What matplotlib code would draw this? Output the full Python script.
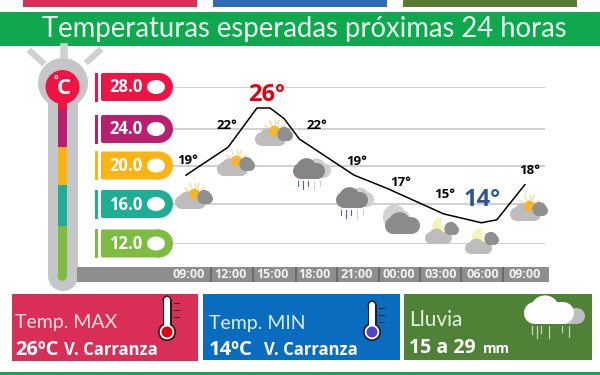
import numpy as np
import matplotlib
matplotlib.use("Agg")
import matplotlib.pyplot as plt
from matplotlib.patches import Ellipse, Rectangle, FancyBboxPatch
from matplotlib.transforms import Affine2D, blended_transform_factory

# ---------- data ----------
scale_vals = [28.0, 24.0, 20.0, 16.0, 12.0]
scale_colors = ["#EE1443", "#B91F6F", "#FCB314", "#1FAD95", "#7DBB41"]

line_hours = [0, 3, 5.07, 6, 7, 8.1, 12, 14.4, 18.4, 21.1, 22.2, 24.2]
line_temps = [19, 22, 26, 26, 25, 22.9, 19, 17.6, 15, 14.1, 14.4, 18]

label_hours = [0, 3, 6, 9, 12, 15, 18, 21, 24]
label_temps = [19, 22, 26, 22, 19, 17, 15, 14, 18]
time_labels = ["09:00", "12:00", "15:00", "18:00", "21:00", "00:00", "03:00", "06:00", "09:00"]
icons = ["partly", "partly", "partly", "rain", "rain", "clouds", "moon", "moon", "partly"]

title = "Temperaturas esperadas próximas 24 horas"

# ---------- layout (pixels of the 600x375 picture) ----------
row_px = [87, 129, 165.5, 204, 243.5]
label_off = [(2, 15), (-1, 22), (-3, 13), (5, 22), (3, 14), (5, 12), (7, 19), (2, 24), (8, 14)]
icon_pos = [(175, 183), (217, 150), (255, 120), (293, 163), (336, 192), (382, 208), (425, 218), (465, 228), (510, 195)]
sep_px = [211, 253, 296, 337, 379, 420, 461, 503]

fig = plt.figure(figsize=(6, 3.75), dpi=100, facecolor="white")
ax = fig.add_axes([173 / 600, (375 - 243.5) / 375, 372 / 600, (243.5 - 87) / 375])
ax.axis("off")
px = Affine2D().scale(1, -1).translate(0, 375)

asc_vals = scale_vals[::-1]
asc_px = [-p for p in row_px[::-1]]
ax.set_yscale("function", functions=(lambda t: np.interp(t, asc_vals, asc_px),
                                     lambda p: np.interp(p, asc_px, asc_vals)))
ax.set_xlim(-13 / 14, 359 / 14)
ax.set_ylim(12, 28)
time_tr = blended_transform_factory(ax.transData, px)


def rect(x0, y0, x1, y1, color, z=1):
    ax.add_patch(Rectangle((x0, y0), x1 - x0, y1 - y0, fc=color, ec="none", transform=px, zorder=z, clip_on=False))


def circ(x, y, r, color, z=1, ry=None):
    ax.add_patch(Ellipse((x, y), 2 * r, 2 * (ry or r), fc=color, ec="none", transform=px, zorder=z, clip_on=False))


def txt(x, y, s, size, color="white", weight="normal", ha="left", z=6, font="Lato"):
    ax.text(x, y, s, fontsize=size, color=color, fontweight=weight, ha=ha, va="baseline", transform=px,
            family=font, zorder=z, clip_on=False)


def cloud(x, y, w, color, z=3, ratio=0.22):
    # x,y is the lower left corner of the cloud, w its width
    h = w * ratio
    rect(x + h, y - 2 * h, x + w - h, y, color, z)
    circ(x + h, y - h, h, color, z)
    circ(x + w - h, y - h, h, color, z)
    circ(x + w * 0.42, y - h * 1.3, h * 1.3, color, z)


def sun(x, y, r):
    for a in np.radians([150, 115, 90, 65, 30]):
        ax.plot([x + np.cos(a) * (r + 2), x + np.cos(a) * (r + 6)], [y - np.sin(a) * (r + 2), y - np.sin(a) * (r + 6)],
                color="#F3D98B", lw=0.9, transform=px, zorder=3, clip_on=False)
    circ(x, y, r, "#F8B62D", 3)


def icon(kind, x, y):
    if kind == "partly":
        cloud(x, y + 26, 31, "#BDBDBD", 2.8)
        sun(x + 19.5, y + 11, 5.5)
        cloud(x + 23, y + 21, 15, "#8F8F8F", 4, 0.36)
    elif kind == "moon":
        circ(x + 16, y + 9, 9, "#F4F5B5", 3)
        circ(x + 23, y + 5, 7, "white", 3)
        cloud(x, y + 26, 27, "#BDBDBD", 4)
        cloud(x + 20, y + 17, 14, "#8F8F8F", 4, 0.36)
    elif kind == "clouds":
        cloud(x + 1, y + 19, 27, "#D2D2D2", 3, 0.32)
        cloud(x + 3, y + 26, 35, "#8C8C8C", 4, 0.24)
    elif kind == "rain":
        cloud(x + 13, y + 15, 25, "#CFCFCF", 3, 0.3)
        cloud(x, y + 16, 32, "#858585", 4, 0.25)
        for i, dx in enumerate([5, 10, 15, 21, 27]):
            c = "#5A5FB0" if i < 3 else "#CFCFCF"
            ax.plot([x + dx, x + dx], [y + 18, y + 23 + (i % 2) * 3], color=c, lw=0.8,
                    transform=px, zorder=3, clip_on=False)


def thermo(x, y0, y1, fill):
    rect(x - 4.5, y0 + 3, x + 4.5, y1 - 9, "#2A1A20", 7)
    circ(x, y0 + 3, 4.5, "#2A1A20", 7)
    circ(x, y1 - 8, 9, "#2A1A20", 7)
    rect(x - 3, y0 + 3, x + 3, y1 - 9, "white", 8)
    circ(x, y0 + 3, 3, "white", 8)
    circ(x, y1 - 8, 7.3, "white", 8)
    circ(x, y1 - 8, 5.5, fill, 9)
    for dy in [6, 13, 20]:
        rect(x + 7, y0 + dy, x + 12.5, y0 + dy + 1, "#2A1A20", 7)


# ---------- top bars and title ----------
for x0, x1, c in [(23, 197, "#D92E55"), (213, 387, "#2E6DB4"), (403, 577, "#5B7B35")]:
    rect(x0, 0, x1, 7, c)
rect(0, 12, 600, 46, "#0FA84E")
txt(304, 37, title, 19.8, color="#E9F9EF", ha="center")

# ---------- thermometer ----------
ax.plot([31, 42], [52, 62], color="#CFD1D3", lw=4.5, transform=px, clip_on=False)
ax.plot([64, 64], [47, 55], color="#CFD1D3", lw=5.5, transform=px, clip_on=False)
ax.plot([99, 88], [51, 61], color="#CFD1D3", lw=4.5, transform=px, clip_on=False)
circ(63, 83, 25, "#C4C6C8")
rect(48, 83, 78, 276, "#C4C6C8")
circ(63, 276, 15, "#C4C6C8")
rect(57.5, 100, 67, 110, "#EE1443", 2)
rect(57.5, 110, 67, 147, "#B91F6F", 2)
rect(57.5, 147, 67, 185, "#FCB314", 2)
rect(57.5, 185, 67, 226, "#1FAD95", 2)
rect(57.5, 226, 67, 276, "#7DBB41", 2)
circ(62.3, 276, 4.8, "#7DBB41", 2)
circ(62.5, 87, 17, "#EE1443", 2)
txt(64, 93.5, "C", 16, weight="bold", ha="center", z=3, font="Open Sans")
txt(56, 85, "°", 8, weight="bold", ha="center", z=3)

# ---------- scale rows ----------
ax.hlines(scale_vals, -13 / 14, 359 / 14, color="#C8C8C8", lw=1.2, zorder=2)
for val, c, y in zip(scale_vals, scale_colors, row_px):
    rect(95, y - 14.5, 98, y + 14.5, c, 3)
    ax.add_patch(FancyBboxPatch((103, y - 12), 56, 24, boxstyle="round,pad=2,rounding_size=2", fc=c, ec="none",
                                transform=px, zorder=3, clip_on=False))
    circ(159, y, 14, c, 3)
    circ(156, y, 9, "white", 4, ry=7)
    txt(126, y + 5.5, "%.1f" % val, 12, weight="bold", ha="center", z=4, font="Open Sans")

# ---------- weather icons, curve, value labels ----------
for kind, (x, y) in zip(icons, icon_pos):
    icon(kind, x, y)

ax.plot(line_hours, line_temps, color="black", lw=1.1, zorder=5, clip_on=False)

for h, t, (dx, dy) in zip(label_hours, label_temps, label_off):
    color, size = "black", 9.5
    if t == max(label_temps):
        color, size = "#E3000F", 17
    elif t == min(label_temps):
        color, size = "#2F5597", 17
    ax.annotate("%d°" % t, (h, t), xytext=(dx * 0.72, dy * 0.72), textcoords="offset points", ha="center",
                va="center", fontsize=size, color=color, fontweight="bold", family="Open Sans", zorder=6,
                annotation_clip=False)

# ---------- time axis ----------
rect(77, 267, 549, 282, "#8E8E8E", 2)
for x in sep_px:
    rect(x - 1, 267, x + 1, 282, "#6A6A6A", 3)
for h, s in zip(label_hours, time_labels):
    ax.text(h + 0.2, 274.7, s, transform=time_tr, fontsize=9, color="#F2F2F2", fontweight="bold", ha="center",
            va="center", family="Open Sans", zorder=4, clip_on=False)

# ---------- bottom boxes ----------
rect(12, 294, 198, 360.5, "#D92E55")
rect(203, 294, 400, 359.5, "#0A6CBF")
rect(404, 294, 592, 360, "#4F8136")
rect(0, 372, 600, 375, "#0FA84E")

txt(15, 328, "Temp. MAX", 14, color="#F8DDE3")
txt(15, 355, "26ºC", 14.5, weight="bold", font="Open Sans")
txt(64, 355, "V. Carranza", 12, weight="bold", font="Open Sans")
txt(209, 329, "Temp. MIN", 14, color="#DCEBFA")
txt(209, 355, "14ºC", 14.5, weight="bold", font="Open Sans")
txt(264, 355, "V. Carranza", 12, weight="bold", font="Open Sans")
txt(409, 326, "Lluvia", 15, color="#E4F2DC")
txt(409, 353, "15 a 29", 14, weight="bold", font="Open Sans")
txt(483, 353, "mm", 10, weight="bold", font="Open Sans")

thermo(167, 297, 340, "#E3000F")
thermo(372, 302, 340, "#4F46C8")

cloud(549, 324, 36, "#BDBDBD", 3)
cloud(524, 324, 50, "white", 4)
for x, y0, y1 in [(532, 326, 334), (537, 326, 338), (541, 326, 333), (549, 326, 338), (562, 326, 332), (569, 326, 337)]:
    ax.plot([x, x], [y0, y1], color="#C5D8B8", lw=0.9, transform=px, zorder=4, clip_on=False)

fig.savefig("out.png", dpi=100)
